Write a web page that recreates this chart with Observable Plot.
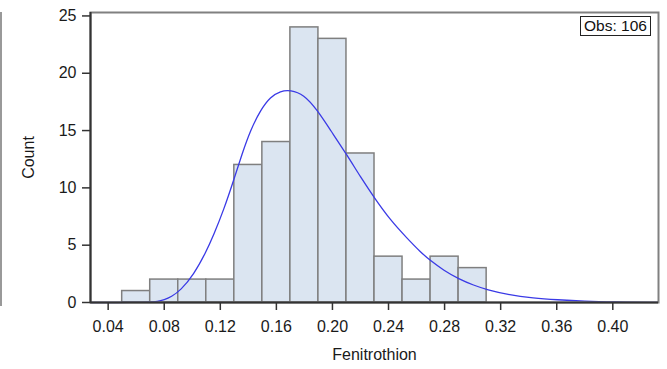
<!DOCTYPE html>
<html>
<head>
<meta charset="utf-8">
<script src="https://cdn.jsdelivr.net/npm/d3@7"></script>
<script src="https://cdn.jsdelivr.net/npm/@observablehq/plot@0.6"></script>
<style>
  body { margin: 0; background: #fff; font-family: "Liberation Sans", Arial, sans-serif; }
  #wrap { position: relative; width: 667px; height: 369px; }
  #edge { position: absolute; left: 0; top: 12px; width: 2px; height: 294px; background: #999; }
  #obs { position: absolute; left: 580px; top: 16px; padding: 0 3px; height: 18px; line-height: 18px;
         border: 1.5px solid #222; font-size: 15.5px; color: #111; background: #fff; }
</style>
</head>
<body>
<div id="wrap"><div id="edge"></div><div id="obs">Obs: 106</div></div>
<script>
// Histogram bins (Fenitrothion)
const binEdges = [0.05, 0.07, 0.09, 0.11, 0.13, 0.15, 0.17, 0.19, 0.21, 0.23, 0.25, 0.27, 0.29, 0.31];
const counts   = [1, 2, 2, 2, 12, 14, 24, 23, 13, 4, 2, 4, 3];

// Fitted density curve (in count units)
const curveX = [0.028, 0.06, 0.07, 0.075, 0.08, 0.085, 0.0916, 0.1011, 0.1094, 0.1153, 0.1225, 0.1296, 0.1356, 0.1415, 0.1487, 0.1558, 0.1629, 0.170, 0.1795, 0.1891, 0.1986, 0.2105, 0.220, 0.2295, 0.2414, 0.2533, 0.2628, 0.2699, 0.2794, 0.2901, 0.3008, 0.3104, 0.3246, 0.3436, 0.360, 0.380, 0.400, 0.432];
const curveY = [0, 0, 0.02, 0.08, 0.24, 0.5, 1.05, 2.45, 4.3, 5.9, 8.1, 10.7, 13.0, 15.03, 16.8, 17.95, 18.45, 18.55, 18.15, 16.8, 15.03, 12.85, 10.95, 9.2, 7.17, 5.6, 4.4, 3.65, 2.8, 2.05, 1.5, 1.11, 0.70, 0.38, 0.24, 0.11, 0.05, 0.01];

const xTicks = [0.04, 0.08, 0.12, 0.16, 0.20, 0.24, 0.28, 0.32, 0.36, 0.40];
const yTicks = [0, 5, 10, 15, 20, 25];

const bars = counts.map((c, i) => ({x1: binEdges[i], x2: binEdges[i + 1], y: c}));
const curve = curveX.map((x, i) => ({x, y: curveY[i]}));

const chart = Plot.plot({
  width: 667,
  height: 369,
  marginLeft: 90,
  marginRight: 9,
  marginTop: 12,
  marginBottom: 67,
  style: {fontFamily: "'Liberation Sans', Arial, sans-serif", fontSize: "16px", color: "#1a1a1a", background: "transparent"},
  x: {domain: [0.0274, 0.4326]},
  y: {domain: [0, 25.3]},
  marks: [
    Plot.rectY(bars, {x1: "x1", x2: "x2", y: "y", fill: "#dbe5f1", stroke: "#7f7f7f", strokeWidth: 1.5}),
    Plot.line(curve, {x: "x", y: "y", stroke: "#3a3ae6", strokeWidth: 1.3, curve: "basis"}),
    Plot.frame({stroke: "#808080", strokeWidth: 2}),
    Plot.ruleY([0], {stroke: "#333", strokeWidth: 2}),
    Plot.ruleX([0.0274], {stroke: "#333", strokeWidth: 2}),
    Plot.axisX({ticks: xTicks, tickFormat: d3.format(".2f"), tickSize: 8, tickPadding: 10, stroke: "#333", strokeWidth: 1.5,
      label: "Fenitrothion", labelAnchor: "center", labelOffset: 57, labelArrow: "none", fontSize: 16}),
    Plot.axisY({ticks: yTicks, tickSize: 8, tickPadding: 6, stroke: "#333", strokeWidth: 1.5,
      label: "Count", labelAnchor: "center", labelOffset: 68, labelArrow: "none", fontSize: 16})
  ]
});
document.getElementById("wrap").prepend(chart);
chart.style.position = "absolute";
chart.style.left = "0";
chart.style.top = "0";
</script>
</body>
</html>
